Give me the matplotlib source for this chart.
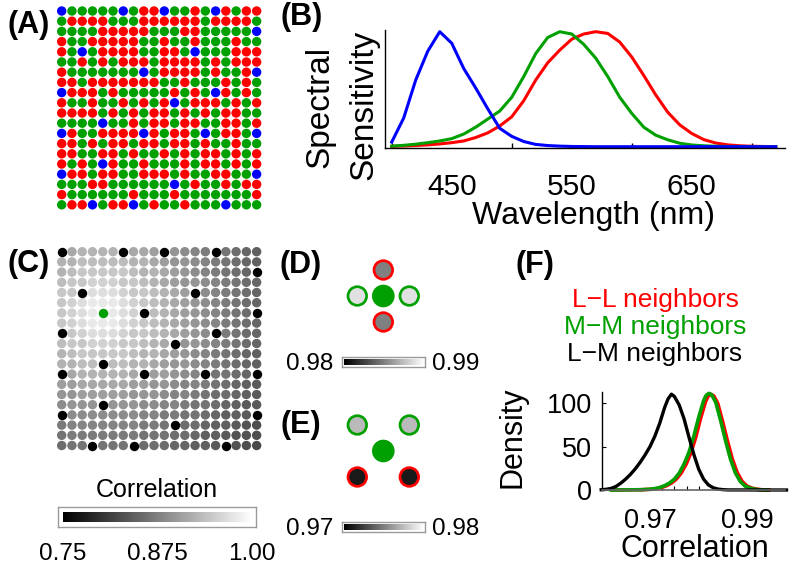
import numpy as np
import matplotlib
matplotlib.use("Agg")
import matplotlib.pyplot as plt
from matplotlib.patches import Circle
from matplotlib.colors import Normalize

plt.rcParams['font.family'] = ['Liberation Sans', 'DejaVu Sans']

# ---------------- data ----------------
# (A) cone mosaic: R = L cone, G = M cone, B = S cone
MOSAIC = [
    "BGGGGGBGRRBGGRGBRGRR",
    "GRRRRGGGRRRRRRGRRRRG",
    "GGGGRRRRRGGGRRGGGGGB",
    "RGGRRRRRGGRGGRGGGRGG",
    "RGBGRRRRGGRRGBGGGRRR",
    "GGRGRGRRRGRRRRGRGRRR",
    "RGGGGGGGBGRRRRGRGGRB",
    "RRGRRRRRRRGGRGGGRGRG",
    "BRRRGRGGGGGRGRGBRGRG",
    "RGGRGGRGRGRBGRRRGRGR",
    "RRRRGRGRGRRGRGRGRRGG",
    "GGGGBGGRGRRGRRGGRRGR",
    "BRGGRRRRBRGRRGBGRRGB",
    "RRGRGRRGRRGRRGRGGRGG",
    "RRGGRRGRGGRGRGRRGRGR",
    "RGRGBRGGRGGGRGRRGRGR",
    "BRRGRRGGRRRGRGGRRGGB",
    "GGGRRGGGGGGBGRGGRGRR",
    "RGGGGGGRGGGRGGGGGGGR",
    "GRRBGRRBGRGGRGGGBGGG",
]
CONE_COLORS = {'R': '#ff0000', 'G': '#00a000', 'B': '#0000ff'}

# (B) spectral sensitivities
WAVELENGTH = list(range(400, 721, 10))
S_SENS = [0.04, 0.25, 0.58, 0.83, 1.00, 0.90, 0.68, 0.51, 0.33, 0.16,
          0.09, 0.045, 0.02, 0.01, 0.005, 0.002, 0.001, 0, 0, 0,
          0, 0, 0, 0, 0, 0, 0, 0, 0, 0, 0, 0, 0]
M_SENS = [0.005, 0.012, 0.022, 0.035, 0.05, 0.07, 0.11, 0.17, 0.24, 0.31,
          0.43, 0.61, 0.81, 0.95, 1.00, 0.98, 0.89, 0.77, 0.61, 0.43,
          0.29, 0.17, 0.10, 0.06, 0.03, 0.015, 0.008, 0.004, 0.002, 0.001,
          0.0005, 0, 0]
L_SENS = [0.003, 0.006, 0.01, 0.016, 0.024, 0.035, 0.05, 0.08, 0.12, 0.18,
          0.26, 0.40, 0.58, 0.73, 0.84, 0.935, 0.98, 1.00, 0.985, 0.91,
          0.78, 0.62, 0.45, 0.30, 0.19, 0.115, 0.062, 0.032, 0.016, 0.008,
          0.004, 0.002, 0.001]
B_TICKS = [450, 550, 650]
B_MINOR = [400, 500, 600, 700]

# (C) correlation with the central M cone: level code per cone,
# 's' = S cone (black), 'x' = reference cone (green)
CORR_LEVELS = [
    "s76666s778s9abcsdefg",
    "6655555667899abcdefg",
    "6544444566789abcdefs",
    "54433344567899abcdef",
    "44s2223445678sabcdef",
    "43211123456789abcdef",
    "4321x123s56789abcdes",
    "43211123456789abcdef",
    "s4322234456789ascdef",
    "54433344567s99abcdef",
    "6544444566789abcdefg",
    "6655s55667899abcdefg",
    "s7666667s889absddefs",
    "88777778899abbcdefgh",
    "9988888999abbcdeefgh",
    "a999s999aabbcddefghh",
    "saaaaaaabbccddefgghs",
    "cbbbbbbbccdseefgghij",
    "dcccccccdddeefgghiij",
    "eddsdddseeeffgghsijk",
]
LEVEL_CORR = {'1': 0.978, '2': 0.966, '3': 0.955, '4': 0.945, '5': 0.935,
              '6': 0.925, '7': 0.915, '8': 0.905, '9': 0.896, 'a': 0.887,
              'b': 0.879, 'c': 0.871, 'd': 0.864, 'e': 0.857, 'f': 0.850,
              'g': 0.844, 'h': 0.838, 'i': 0.832, 'j': 0.827, 'k': 0.822}
C_RANGE = (0.75, 1.00)
C_TICKS = [0.75, 0.875, 1.00]
C_TICKLABELS = ['0.75', '0.875', '1.00']

# (D) nearest neighbours, (E) diagonal neighbours of the reference cone
REF_CONE = (6, 4)
D_CORR = {(-1, 0): 0.9850, (1, 0): 0.9850, (0, -1): 0.9888, (0, 1): 0.9888}
E_CORR = {(-1, -1): 0.9773, (-1, 1): 0.9773, (1, -1): 0.9710, (1, 1): 0.9710}
D_RANGE = (0.98, 0.99)
E_RANGE = (0.97, 0.98)

# (F) densities of neighbour correlations
LL_X = [0.9624, 0.9684, 0.9704, 0.9714, 0.9724, 0.9734, 0.9744, 0.9754, 0.9764,
        0.9774, 0.9784, 0.9794, 0.9804, 0.9814, 0.9819, 0.9825, 0.9831, 0.9839,
        0.9849, 0.9859, 0.9869, 0.9879, 0.9889, 0.9899, 0.9909, 0.9919, 0.9929, 0.9944]
LL_Y = [0, 0.3, 0.9, 1.6, 2.9, 5, 8, 12.5, 19.5, 29.5, 43, 61, 83, 102, 108, 110.5,
        108.5, 100, 79, 56.5, 35.5, 20, 10, 4.5, 2.2, 0.9, 0.3, 0]
MM_X = [0.9620, 0.9680, 0.9700, 0.9710, 0.9720, 0.9730, 0.9740, 0.9750, 0.9760,
        0.9770, 0.9780, 0.9790, 0.9800, 0.9810, 0.9815, 0.9821, 0.9827, 0.9835,
        0.9845, 0.9855, 0.9865, 0.9875, 0.9885, 0.9895, 0.9905, 0.9915, 0.9925, 0.9940]
MM_Y = [0, 0.3, 0.9, 1.6, 2.9, 5, 8, 12.5, 19.5, 30, 43.5, 62, 84, 103, 109, 111.5,
        109.5, 101, 80, 57, 36, 20, 10, 4.5, 2.2, 0.9, 0.3, 0]
LM_X = [0.9600, 0.9610, 0.9620, 0.9630, 0.9640, 0.9650, 0.9660, 0.9670, 0.9680,
        0.9690, 0.9700, 0.9710, 0.9720, 0.9730, 0.9737, 0.9744, 0.9750, 0.9760,
        0.9770, 0.9780, 0.9790, 0.9800, 0.9810, 0.9820, 0.9830, 0.9840, 0.9850,
        0.9860, 0.9980]
LM_Y = [0.3, 0.8, 1.8, 4, 7.8, 12.5, 18, 24.5, 32, 40.5, 50, 62, 77, 95, 105, 110.5,
        108, 98, 82, 61, 41, 24, 12.5, 5.8, 2.5, 1.0, 0.4, 0.1, 0]
F_XTICKS = [0.97, 0.99]
F_XMINOR = [0.97, 0.9725, 0.975, 0.9775, 0.98]
F_YTICKS = [0, 50, 100]
LEGEND = [("L\u2212L neighbors", '#ff0000'),
          ("M\u2212M neighbors", '#00a000'),
          ("L\u2212M neighbors", 'black')]

# ---------------- layout helpers ----------------
W, H = 792, 569
fig = plt.figure(figsize=(W / 100, H / 100), dpi=100)


def add_ax(x0, y0, x1, y1):
    return fig.add_axes([x0 / W, 1 - y1 / H, (x1 - x0) / W, (y1 - y0) / H])


def ftext(x, y, s, **kw):
    return fig.text(x / W, 1 - y / H, s, **kw)


DOT_S = 46
SPX, SPY = 10.26, 10.2


def grid_axes(top):
    x0 = 61.7 - SPX / 2
    y0 = top - SPY / 2
    ax = add_ax(x0, y0, x0 + 20 * SPX, y0 + 20 * SPY)
    ax.set_xlim(-0.5, 19.5)
    ax.set_ylim(19.5, -0.5)
    ax.axis('off')
    return ax


nrow, ncol = len(MOSAIC), len(MOSAIC[0])
rows, cols = np.mgrid[0:nrow, 0:ncol]

# ---------------- (A) ----------------
axA = grid_axes(11.0)
types = np.array([list(r) for r in MOSAIC])
axA.scatter(cols.ravel(), rows.ravel(), s=DOT_S,
            c=[CONE_COLORS[t] for t in types.ravel()], linewidths=0)

# ---------------- (B) ----------------
axB = add_ax(385, 30, 785, 148.3)
axB.plot(WAVELENGTH, L_SENS, color='#ff0000', lw=2.2, clip_on=False)
axB.plot(WAVELENGTH, M_SENS, color='#00a000', lw=2.2, clip_on=False)
axB.plot(WAVELENGTH, S_SENS, color='#0000ff', lw=2.2, clip_on=False)
axB.set_xlim(394.4, 727.7)
axB.set_ylim(-0.0139, 1.0148)
for sp in ['top', 'right']:
    axB.spines[sp].set_visible(False)
for sp in ['left', 'bottom']:
    axB.spines[sp].set_linewidth(1.0)
axB.set_yticks([])
axB.set_xticks(B_TICKS)
axB.set_xticklabels([str(t) for t in B_TICKS], fontsize=21.5)
axB.set_xticks(B_MINOR, minor=True)
axB.tick_params(axis='x', which='major', length=0, pad=17.5)
axB.tick_params(axis='x', which='minor', direction='in', length=3.5, width=1)
axB.patch.set_alpha(0)
ftext(593, 224, "Wavelength (nm)", ha='center', va='baseline', fontsize=23)
ftext(320, 106.7, "Spectral", ha='center', va='center', rotation=90, fontsize=24)
ftext(364, 105, "Sensitivity", ha='center', va='center', rotation=90, fontsize=24)

# ---------------- (C) ----------------
axC = grid_axes(251.7)
lev = np.array([list(r) for r in CORR_LEVELS])
m_s = lev == 's'
m_x = lev == 'x'
m_g = ~(m_s | m_x)
vals = np.array([LEVEL_CORR[ch] for ch in lev[m_g]])
axC.scatter(cols[m_g], rows[m_g], c=vals, cmap='gray', vmin=C_RANGE[0], vmax=C_RANGE[1],
            s=DOT_S, linewidths=0)
axC.scatter(cols[m_s], rows[m_s], color='black', s=DOT_S, linewidths=0)
axC.scatter(cols[m_x], rows[m_x], color='#00a000', s=DOT_S, linewidths=0)


def colorbar(outer, inner, lo, hi):
    axo = add_ax(*outer)
    axo.set_xticks([])
    axo.set_yticks([])
    for sp in axo.spines.values():
        sp.set_color('#9a9a9a')
        sp.set_linewidth(1.0)
    axi = add_ax(*inner)
    axi.imshow(np.linspace(lo, hi, 256)[None, :], cmap='gray', vmin=lo, vmax=hi,
               aspect='auto', extent=(lo, hi, 0, 1))
    axi.axis('off')
    return axi


cbC = colorbar((58.3, 507.3, 256, 526.7), (62.7, 511.7, 251.7, 522.3), *C_RANGE)
ftext(157, 496.7, "Correlation", ha='center', va='baseline', fontsize=18)
for t, lab in zip(C_TICKS, C_TICKLABELS):
    xpx = 62.7 + (t - C_RANGE[0]) / (C_RANGE[1] - C_RANGE[0]) * (251.7 - 62.7)
    ftext(xpx, 560, lab, ha='center', va='baseline', fontsize=17.5)

# ---------------- (D) & (E) ----------------
U = 26.0


def neighbor_panel(cx, cy, corr, rng):
    ax = add_ax(cx - 1.5 * U, cy - 1.5 * U, cx + 1.5 * U, cy + 1.5 * U)
    ax.set_xlim(-1.5, 1.5)
    ax.set_ylim(1.5, -1.5)
    ax.axis('off')
    norm = Normalize(*rng)
    r0, c0 = REF_CONE
    ax.add_patch(Circle((0, 0), 0.435, fc=CONE_COLORS[MOSAIC[r0][c0]], ec='none'))
    for (dr, dc), v in corr.items():
        cone = MOSAIC[r0 + dr][c0 + dc]
        ax.add_patch(Circle((dc, dr), 0.358, fc=plt.cm.gray(norm(v)),
                            ec=CONE_COLORS[cone], lw=1.95))
    return ax


neighbor_panel(383.3, 296.0, D_CORR, D_RANGE)
neighbor_panel(383.3, 451.0, E_CORR, E_RANGE)
colorbar((341.7, 357.3, 425, 366.7), (343.7, 359.2, 423, 364.8), *D_RANGE)
ftext(333, 362, f"{D_RANGE[0]:.2f}", ha='right', va='center_baseline', fontsize=17.5)
ftext(432, 362, f"{D_RANGE[1]:.2f}", ha='left', va='center_baseline', fontsize=17.5)
colorbar((341.7, 521.7, 425, 531.7), (343.7, 523.6, 423, 529.8), *E_RANGE)
ftext(333, 526.7, f"{E_RANGE[0]:.2f}", ha='right', va='center_baseline', fontsize=17.5)
ftext(432, 526.7, f"{E_RANGE[1]:.2f}", ha='left', va='center_baseline', fontsize=17.5)

# ---------------- (F) ----------------
axF = add_ax(601.7, 391.7, 785, 490)
axF.plot(LL_X, LL_Y, color='#ff0000', lw=2.6, clip_on=False)
axF.plot(MM_X, MM_Y, color='#00a000', lw=2.6, clip_on=False)
axF.plot(LM_X, LM_Y, color='black', lw=2.4, clip_on=False)
axF.set_xlim(0.9601, 0.9977)
axF.set_ylim(0, 113.4)
for sp in ['top', 'right']:
    axF.spines[sp].set_visible(False)
axF.spines['left'].set_linewidth(1.0)
axF.spines['bottom'].set_linewidth(1.2)
axF.spines['bottom'].set_color('#666666')
axF.set_xticks(F_XTICKS)
axF.set_xticklabels([f"{t:.2f}" for t in F_XTICKS], fontsize=19.5)
axF.set_xticks(F_XMINOR, minor=True)
axF.tick_params(axis='x', which='major', length=0, pad=13)
axF.tick_params(axis='x', which='minor', direction='in', length=3, width=0.8)
axF.set_yticks(F_YTICKS)
axF.set_yticklabels([str(t) for t in F_YTICKS], fontsize=19.5)
axF.tick_params(axis='y', direction='in', length=3, width=0.8, pad=7)
axF.patch.set_alpha(0)
ftext(695, 556.7, "Correlation", ha='center', va='baseline', fontsize=22)
ftext(512.6, 437.5, "Density", ha='center', va='center', rotation=90, fontsize=22)
for i, (lab, col) in enumerate(LEGEND):
    ftext(655, 306.7 + 27 * i, lab, ha='center', va='baseline', color=col, fontsize=19)

# ---------------- panel labels ----------------
for lab, x, y in [("(A)", 29, 33.3), ("(B)", 301.7, 25), ("(C)", 29, 271.7),
                  ("(D)", 300.8, 272.7), ("(E)", 300.8, 432.7), ("(F)", 535, 272.7)]:
    ftext(x, y, lab, ha='center', va='baseline', fontsize=22, fontweight='bold')

fig.savefig("out.png", dpi=100)
